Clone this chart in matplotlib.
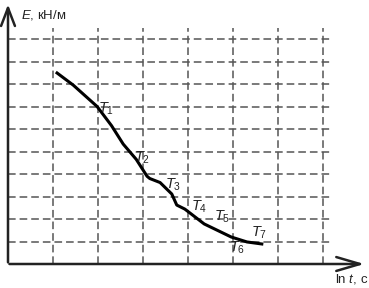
import matplotlib
matplotlib.use("Agg")
import matplotlib.pyplot as plt
import numpy as np

plt.rcParams['font.family'] = ['Liberation Sans', 'DejaVu Sans']
plt.rcParams['mathtext.fontset'] = 'custom'
plt.rcParams['mathtext.rm'] = 'Liberation Sans'
plt.rcParams['mathtext.it'] = 'Liberation Sans:italic'

# curve E vs ln t (grid units)
curve_x = [1.09, 1.45, 1.98, 2.30, 2.56, 2.85, 3.09, 3.15, 3.38, 3.64, 3.75, 3.93, 4.36, 4.96, 5.31, 5.64]
curve_y = [8.49, 7.95, 7.00, 6.15, 5.33, 4.65, 3.90, 3.80, 3.62, 3.11, 2.62, 2.44, 1.78, 1.20, 0.98, 0.89]

label_names = ['T_1', 'T_2', 'T_3', 'T_4', 'T_5', 'T_6', 'T_7']
label_x = [2.18, 2.98, 3.66, 4.25, 4.76, 5.08, 5.58]
label_y = [6.90, 4.70, 3.50, 2.55, 2.10, 0.70, 1.40]

grid_x = [1, 2, 3, 4, 5, 6, 7]
grid_y = [1, 2, 3, 4, 5, 6, 7, 8, 9, 10]

fig = plt.figure(figsize=(3.69, 2.88), dpi=100)
ax = fig.add_axes([0, 0, 1, 1])
ax.set_xlim(-8/45, 361/45)
ax.set_ylim(-24/22.5, 264/22.5)
ax.axis('off')

dash = (0, (5.0, 2.6))
for gy in grid_y:
    ax.plot([0, 7.16], [gy, gy], color='#555555', lw=1.1, linestyle=dash, zorder=1)
for gx in grid_x:
    ax.plot([gx, gx], [0, 10.49], color='#555555', lw=1.1, linestyle=dash, zorder=1)

# axes with arrows
ax.annotate('', xy=(0, 11.66), xytext=(0, -0.05),
            arrowprops=dict(arrowstyle='->,head_length=1.3,head_width=0.5', lw=1.8, color='#222222'))
ax.annotate('', xy=(7.98, 0), xytext=(-0.03, 0),
            arrowprops=dict(arrowstyle='->,head_length=1.7,head_width=0.5', lw=1.8, color='#222222'))

ax.plot(curve_x, curve_y, color='black', lw=2.2, zorder=3, solid_joinstyle='round')

for n, x, y in zip(label_names, label_x, label_y):
    ax.text(x, y, '$\\mathit{%s}$' % n, fontsize=10.5, ha='center', va='center', color='#222222', zorder=4)

ax.text(0.28, 11.08, '$\\mathit{E}$, кН/м', fontsize=9.5, ha='left', va='center', color='#222222')
ax.text(8.0, -0.66, 'ln $\\mathit{t}$, с', fontsize=9.5, ha='right', va='center', color='#222222')

fig.savefig('out.png', dpi=100)
